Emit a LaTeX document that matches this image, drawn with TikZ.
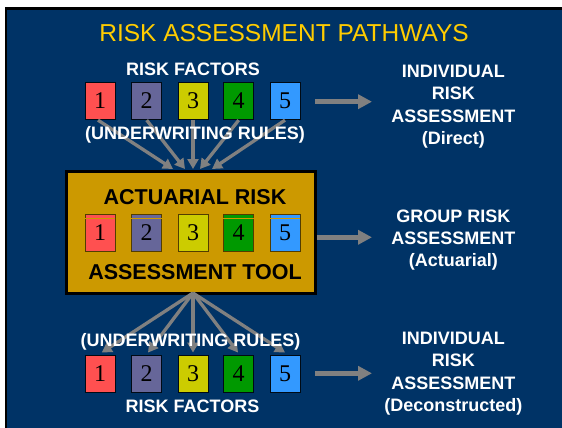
\documentclass[tikz,border=0pt]{standalone}
\usepackage{fontspec}
\setmainfont{Liberation Sans}
\newfontfamily\digitfont{Liberation Serif}
\usetikzlibrary{arrows.meta}
\definecolor{navy}{RGB}{0,51,102}
\definecolor{titleyellow}{RGB}{255,204,0}
\definecolor{toolgold}{RGB}{204,153,0}
\definecolor{fone}{RGB}{255,80,80}
\definecolor{ftwo}{RGB}{102,102,153}
\definecolor{fthree}{RGB}{204,204,0}
\definecolor{ffour}{RGB}{0,153,0}
\definecolor{ffive}{RGB}{51,153,255}
\definecolor{arrowgray}{RGB}{128,128,128}
\tikzset{
  fbox/.style={draw=black!80!navy, line width=0.8pt, minimum width=30pt, minimum height=37.5pt, inner sep=0pt, font=\digitfont\fontsize{24}{24}\selectfont, text=black},
  lbl/.style={text=white, font=\bfseries\fontsize{18}{18}\selectfont, inner sep=0pt},
  rlbl/.style={text=white, font=\bfseries\fontsize{18}{22.3}\selectfont, align=center, inner sep=0pt},
  garrow/.style={draw=arrowgray, line width=5pt, -{Triangle[width=14pt,length=14pt]}},
  thinarrow/.style={draw=arrowgray, line width=3.3pt, -{Triangle[width=11pt,length=10pt]}}
}
\begin{document}
\begin{tikzpicture}[x=1pt,y=-1pt]
\useasboundingbox (0,0) rectangle (562,428);
\fill[white] (0,0) rectangle (562,428);
\fill[navy] (5,7) rectangle (562,428);
\draw[black, line width=2.5pt] (6.2,428) -- (6.2,8.7) -- (562,8.7);

% title
\node[text=titleyellow, font=\fontsize{24.5}{24.5}\selectfont, inner sep=0pt] (title) at (284,33) {RISK ASSESSMENT PATHWAYS};

% top factors
\node[lbl] (rftop) at (193,69) {RISK FACTORS};
\node[fbox, fill=fone] (t1) at (100,101) {1};
\node[fbox, fill=ftwo] (t2) at (146.7,101) {2};
\node[fbox, fill=fthree] (t3) at (193,101) {3};
\node[fbox, fill=ffour] (t4) at (238.7,101) {4};
\node[fbox, fill=ffive] (t5) at (285,101) {5};

% tool
\node[draw=black, line width=3pt, fill=toolgold, minimum width=248.7pt, minimum height=122pt, inner sep=0pt] (tool) at (191,232.5) {};
\node[font=\bfseries\fontsize{21.5}{21.5}\selectfont, inner sep=0pt] (tooltop) at (195,197.3) {ACTUARIAL RISK};
\node[font=\bfseries\fontsize{21.5}{21.5}\selectfont, inner sep=0pt] (toolbot) at (195,272) {ASSESSMENT TOOL};
\node[fbox, fill=fone, draw=black!60!toolgold] (m1) at (100,233) {1};
\node[fbox, fill=ftwo, draw=black!60!toolgold] (m2) at (146.7,233) {2};
\node[fbox, fill=fthree, draw=black!60!toolgold] (m3) at (193,233) {3};
\node[fbox, fill=ffour, draw=black!60!toolgold] (m4) at (238.7,233) {4};
\node[fbox, fill=ffive, draw=black!60!toolgold] (m5) at (285,233) {5};
\foreach \m in {m1,m2,m4,m5}{
  \draw[toolgold, line width=0.7pt] ([yshift=-4pt]\m.north west) -- ([yshift=-4pt]\m.north east);
}

% bottom factors
\node[fbox, fill=fone] (b1) at (100,373.7) {1};
\node[fbox, fill=ftwo] (b2) at (146.7,373.7) {2};
\node[fbox, fill=fthree] (b3) at (193,373.7) {3};
\node[fbox, fill=ffour] (b4) at (238.7,373.7) {4};
\node[fbox, fill=ffive] (b5) at (285,373.7) {5};
\node[lbl] (rfbot) at (192.5,406.7) {RISK FACTORS};

% arrows top -> tool
\coordinate (c1) at (173,169);
\coordinate (c2) at (185,169);
\coordinate (c3) at (193,169);
\coordinate (c4) at (200,169);
\coordinate (c5) at (212,169);
\draw[thinarrow] ([xshift=-2pt]t1.south) -- (c1);
\draw[thinarrow] (t2.south) -- (c2);
\draw[thinarrow] (t3.south) -- (c3);
\draw[thinarrow] (t4.south) -- (c4);
\draw[thinarrow] (t5.south) -- (c5);

% arrows tool -> bottom
\coordinate (s) at (193,293);
\foreach \b/\dx in {b1/1.7,b2/1.3,b3/0,b4/-0.7,b5/0}{
  \draw[thinarrow] (s) -- ([xshift=\dx pt, yshift=2pt]\b.north);
}

% underwriting labels (drawn over arrows)
\node[lbl] (uwtop) at (195,135) {(UNDERWRITING RULES)};
\node[lbl] (uwbot) at (190.5,341.7) {(UNDERWRITING RULES)};

% right labels
\node[rlbl] (r1) at (453.3,106.7) {INDIVIDUAL\\RISK\\ASSESSMENT\\(Direct)};
\node[rlbl] (r2) at (453.3,240) {GROUP RISK\\ASSESSMENT\\(Actuarial)};
\node[rlbl] (r3) at (453.3,373.7) {INDIVIDUAL\\RISK\\ASSESSMENT\\(Deconstructed)};

% right arrows
\coordinate (a1) at (372,101.7);
\coordinate (a2) at (372,237.3);
\coordinate (a3) at (372,373.3);
\draw[garrow] ([xshift=15pt]t5.east |- a1) -- (a1);
\draw[garrow] (tool.east |- a2) -- (a2);
\draw[garrow] ([xshift=15pt]b5.east |- a3) -- (a3);
\end{tikzpicture}
\end{document}
